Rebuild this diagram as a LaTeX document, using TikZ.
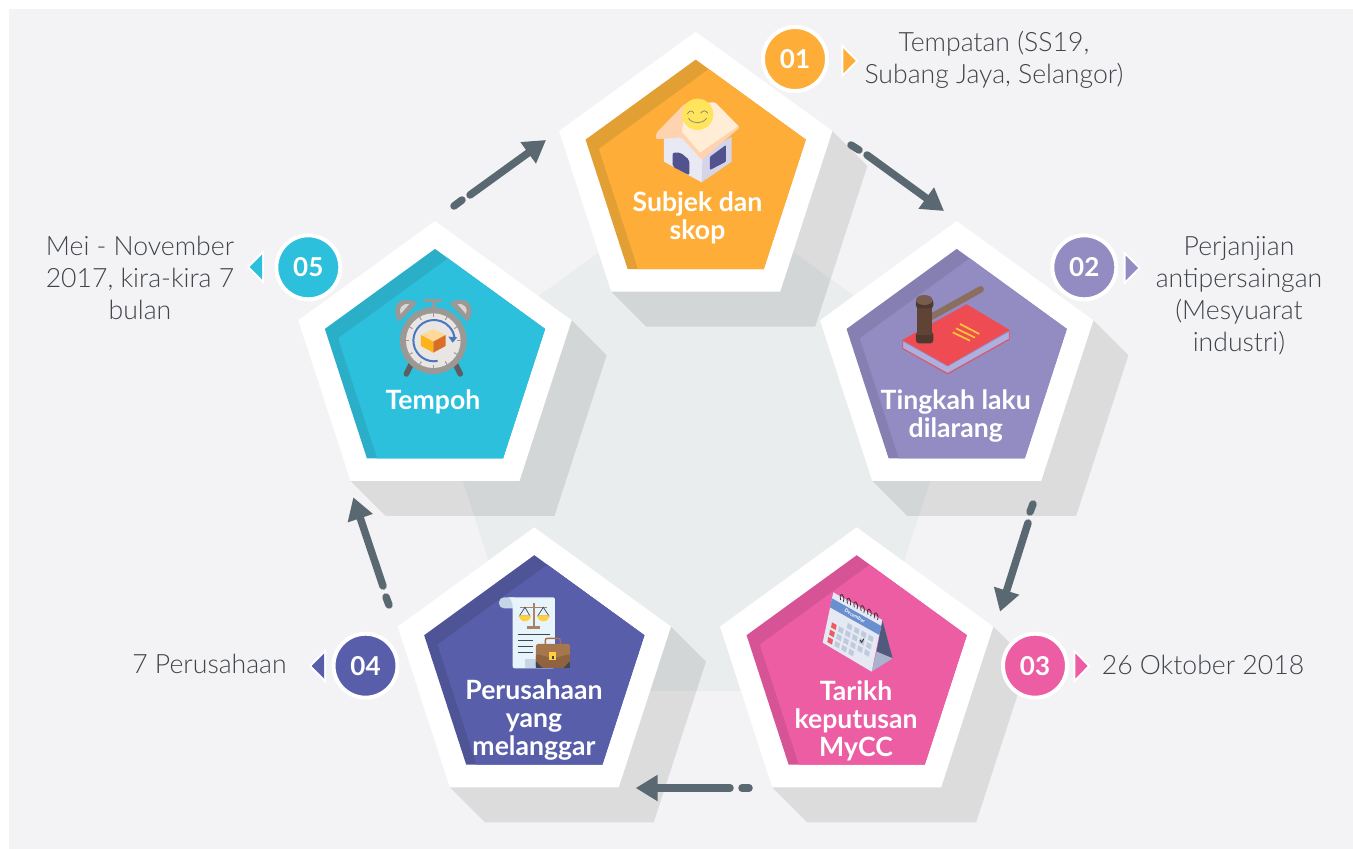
\documentclass[tikz,border=0pt]{standalone}
\usepackage{fontspec}
\setmainfont{Lato}
\newfontfamily\thinfont{Lato Light}
\usetikzlibrary{arrows.meta,calc}
\definecolor{pagegrey}{HTML}{F3F3F5}
\definecolor{bigpent}{HTML}{EAEDEE}
\definecolor{slate}{HTML}{5A6872}
\definecolor{sidetext}{HTML}{404448}
\definecolor{colA}{HTML}{FDAD38}
\definecolor{darkA}{HTML}{E29F34}
\definecolor{colB}{HTML}{938CC3}
\definecolor{darkB}{HTML}{8680B2}
\definecolor{colC}{HTML}{EC5DA3}
\definecolor{darkC}{HTML}{D65495}
\definecolor{colD}{HTML}{585EAA}
\definecolor{darkD}{HTML}{4F5496}
\definecolor{colE}{HTML}{2CC0DC}
\definecolor{darkE}{HTML}{2BAEC8}
\newcommand{\hexcol}[1]{\definecolor{#1}{HTML}{#1}}
\hexcol{E9E9F4}\hexcol{D5D4E9}\hexcol{52528F}\hexcol{FFD2B0}\hexcol{FFEDD5}\hexcol{FFE45C}
\hexcol{8B6F5E}\hexcol{EE4B53}\hexcol{B0AEDC}\hexcol{F9C532}\hexcol{4E392E}\hexcol{5F4436}\hexcol{7A5C4E}
\hexcol{4F5B7C}\hexcol{A8B4CE}\hexcol{E4E9F3}\hexcol{6A8FCF}\hexcol{EE5A5F}\hexcol{BFCADC}
\hexcol{C5D5E6}\hexcol{E8F4FB}\hexcol{A98268}\hexcol{3F4650}\hexcol{FFCF3F}\hexcol{A46F4B}\hexcol{A6774F}\hexcol{8F6340}
\hexcol{5E5E5E}\hexcol{9B9896}\hexcol{D9D6D4}\hexcol{E8E5E3}\hexcol{4A76C0}\hexcol{FFD89A}\hexcol{FFB31A}\hexcol{D96F26}
\newcommand{\pentpath}[1]{(-90:#1) -- (-18:#1) -- (54:#1) -- (126:#1) -- (198:#1) -- cycle}
\tikzset{
	pentlabel/.style={text=white,font=\fontsize{26.6}{28}\selectfont\bfseries,align=center,inner sep=0pt},
	sidelabel/.style={text=sidetext,font=\fontsize{26.6}{32}\selectfont\thinfont,align=center,inner sep=0pt},
	badge/.style={circle,draw=white,line width=4pt,minimum size=64pt,inner sep=0pt,outer sep=0pt,text=white,font=\fontsize{26}{28}\selectfont\bfseries},
	flow/.style={draw=slate,line width=7.5pt,line cap=round},
	zoomed/.style={x=.3333pt,y=-.3333pt},
}
\begin{document}
\begin{tikzpicture}[x=1pt,y=-1pt]
\useasboundingbox[fill=white] (0,0) rectangle (1353,849);
\fill[pagegrey] (9,9) rectangle (1353,849);
\coordinate (big) at (696.5,463);
\coordinate (P1) at (695.7,175.4);
\coordinate (P2) at (956.7,364.7);
\coordinate (P3) at (856.7,671);
\coordinate (P4) at (534.3,671);
\coordinate (P5) at (435,364.7);
\fill[bigpent,shift={(big)}] \pentpath{281.6};
\foreach \p in {P1,P2,P3,P4,P5}
	\fill[black,opacity=.095,shift={(\p)}] (-18:143.7) -- ++(35,35) -- ($(54:143.7)+(35,35)$) -- ($(126:143.7)+(35,35)$) -- (126:143.7) -- cycle;
\foreach \p/\c/\d in {P1/colA/darkA,P2/colB/darkB,P3/colC/darkC,P4/colD/darkD,P5/colE/darkE}{
	\fill[white,shift={(\p)}] \pentpath{143.7};
	\fill[\d,shift={(\p)}] \pentpath{115.8};
	\begin{scope}[shift={(\p)}]
		\clip \pentpath{115.8};
		\fill[\c,shift={(13.3,9.3)}] \pentpath{115.8};
	\end{scope}
}
\coordinate (a1) at (454,206);
\coordinate (b1) at (462,200);
\coordinate (c1) at (470,195);
\coordinate (d1) at (546,140);
\coordinate (a2) at (851,145);
\coordinate (b2) at (859,150);
\coordinate (c2) at (867,155);
\coordinate (d2) at (944,211);
\coordinate (a3) at (1033,504);
\coordinate (b3) at (1030,512);
\coordinate (c3) at (1028,523);
\coordinate (d3) at (1000,611.7);
\coordinate (a4) at (749,788);
\coordinate (b4) at (742,788);
\coordinate (c4) at (730,788);
\coordinate (d4) at (635.7,788);
\coordinate (a5) at (389,605);
\coordinate (b5) at (386,597);
\coordinate (c5) at (383,586);
\coordinate (d5) at (353.3,497.3);
\foreach \i in {1,...,5}{
	\draw[flow] (a\i) -- (b\i);
	\draw[flow,-{Triangle[length=22pt,width=25pt]}] (c\i) -- (d\i);
}
\node[pentlabel] (l1) at (697.5,218) {Subjek dan\\skop};
\node[pentlabel] (l2) at (955.8,416) {Tingkah laku\\dilarang};
\node[pentlabel] (l3) at (856,721) {Tarikh\\keputusan\\MyCC};
\node[pentlabel] (l4) at (534,720.5) {Perusahaan\\yang\\melanggar};
\node[pentlabel] (l5) at (433,402) {Tempoh};
\foreach \n/\x/\y/\c/\t in {n1/795/59/colA/01,n2/1084.3/267.3/colB/02,n3/1035/665.7/colC/03,n4/365.5/665.7/colD/04,n5/308.3/267.3/colE/05}
	\node[badge,fill=\c] (\n) at (\x,\y) {\t};
\foreach \x/\y/\s/\c in {843.3/60.8/1/colA,1125.7/268/1/colB,1075.3/666/1/colC,324/666/-1/colD,262/267/-1/colE}
	\fill[\c,preaction={draw=white,line width=4pt}] (\x,\y-12.5) -- (\x+\s*12.4,\y) -- (\x,\y+12.5) -- cycle;
\node[sidelabel] (s1) at (994,59.5) {Tempatan (SS19,\\Subang Jaya, Selangor)};
\node[sidelabel] (s2) at (1239,295.5) {Perjanjian\\antipersaingan\\(Mesyuarat\\industri)};
\node[sidelabel] (s3) at (1203,665) {26 Oktober 2018};
\node[sidelabel] (s4) at (209.5,664) {7 Perusahaan};
\node[sidelabel] (s5) at (140,278) {Mei - November\\2017, kira-kira 7\\bulan};
% house
\begin{scope}[shift={(550,20)},zoomed]
	\fill[E9E9F4] (342,350) -- (342,425) -- (455,487) -- (470,400) -- (395,340) -- cycle;
	\fill[D5D4E9] (545,350) -- (545,425) -- (455,487) -- (458,400) -- cycle;
	\fill[52528F,rounded corners=2pt] (368,398) -- (392,398) -- (418,420) -- (418,466) -- (368,440) -- cycle;
	\fill[52528F,rounded corners=1pt] (480,410) -- (528,375) -- (528,425) -- (480,450) -- cycle;
	\fill[FFD2B0,rounded corners=2pt] (318,340) -- (405,250) -- (495,247) -- (570,322) -- (455,420) -- (395,352) -- (318,358) -- cycle;
	\fill[FFEDD5,rounded corners=1pt] (495,247) -- (565,318) -- (450,398) -- (395,335) -- (410,255) -- cycle;
	\fill[FFE45C] (443,283) circle (47);
	\draw[gray,line width=.7pt] (412,282) .. controls (420,270) and (425,270) .. (432,280);
	\draw[gray,line width=.7pt] (452,280) .. controls (460,270) and (465,270) .. (474,280);
	\draw[gray,line width=.7pt] (415,295) .. controls (430,313) and (455,313) .. (470,295);
\end{scope}
% gavel and book
\begin{scope}[shift={(820,220)},zoomed]
	\fill[EE4B53] (247,360) -- (440,253) -- (569,330) -- (383,437) -- cycle;
	\fill[B0AEDC] (249,365) -- (383,440) -- (568,335) -- (568,355) -- (383,458) -- (249,385) -- cycle;
	\draw[EE4B53,line width=.8pt] (248,362) -- (248,385) -- (383,462) -- (568,358) -- (568,332);
	\draw[8B6F5E,line width=6.5pt,line cap=round] (335,290) -- (482,208);
	\draw[F9C532,line width=1.8pt] (420,312) -- (478,342);
	\draw[F9C532,line width=1.8pt] (408,325) -- (465,353);
	\draw[F9C532,line width=1.8pt] (398,337) -- (450,362);
	\fill[4E392E,rounded corners=3pt] (288,335) rectangle (340,370);
	\fill[5F4436] (292,250) rectangle (336,345);
	\fill[4E392E,rounded corners=3pt] (288,238) rectangle (340,265);
	\fill[7A5C4E] (313,240) ellipse (25 and 15);
\end{scope}
% calendar
\begin{scope}[shift={(720,520)},zoomed]
	\fill[4F5B7C] (487,300) -- (518,415) -- (470,395) -- cycle;
	\fill[A8B4CE] (470,395) -- (518,415) -- (455,455) -- cycle;
	\fill[E4E9F3] (340,217) -- (487,300) -- (455,455) -- (308,368) -- cycle;
	\fill[6A8FCF] (336,235) -- (484,318) -- (478,345) -- (330,262) -- cycle;
	\node[rotate=-30,text=white,font=\fontsize{5}{5}\selectfont\bfseries,inner sep=0pt] (month) at (405,288) {December};
	\foreach \i in {0,...,5}
		\draw[black!80,line width=.8pt] (362+\i*20.5,240+\i*11) .. controls (355+\i*20.5,210+\i*11) and (378+\i*20.5,225+\i*11) .. (370+\i*20.5,245+\i*11);
	\foreach \r in {0,1,2}
		\fill[EE5A5F] (336-\r*5.5,307+\r*22) -- ++(14,8) -- ++(-3,15) -- ++(-14,-8) -- cycle;
	\foreach \r/\c in {-1/2,-1/3,-1/4,-1/5,0/1,0/2,0/3,0/4,0/5,1/1,1/2,1/3,1/4,1/5,2/1,2/2,2/3}
		\fill[BFCADC] (336-\r*5.5+\c*21,307+\r*22+\c*11.7) -- ++(14,8) -- ++(-3,15) -- ++(-14,-8) -- cycle;
	\draw[black!80,line width=.9pt] (420,360) -- (425,367) -- (432,356);
\end{scope}
% scroll and briefcase
\begin{scope}[shift={(390,520)},zoomed]
	\fill[C5D5E6,rounded corners=5pt] (327,265) -- (327,232) -- (385,232) -- (385,265) -- cycle;
	\fill[E8F4FB,rounded corners=2pt] (368,445) -- (368,265) .. controls (368,250) and (362,235) .. (352,232) -- (495,232) -- (495,445) -- cycle;
	\fill[C5D5E6] (405,418) rectangle (480,443);
	\draw[A98268,line width=1.6pt] (432,248) -- (432,320);
	\draw[A98268,line width=1.6pt] (390,262) -- (472,262);
	\fill[A98268] (412,318) rectangle (450,326);
	\draw[3F4650,line width=.7pt] (405,262) -- (388,288) -- (420,288) -- cycle;
	\draw[3F4650,line width=.7pt] (460,262) -- (443,288) -- (477,288) -- cycle;
	\fill[FFCF3F] (387,286) arc (180:0:18) -- cycle;
	\fill[FFCF3F] (442,286) arc (180:0:18) -- cycle;
	\draw[3F4650,line width=1.5pt] (384,343) -- (481,343);
	\draw[3F4650,line width=1.5pt] (384,362) -- (428,362);
	\draw[3F4650,line width=1.5pt] (384,380) -- (428,380);
	\draw[3F4650,line width=1.5pt] (384,398) -- (428,398);
	\draw[A46F4B,line width=1.4pt,rounded corners=2pt] (466,375) -- (466,355) -- (511,355) -- (511,375);
	\fill[A6774F,rounded corners=2pt] (438,372) rectangle (540,444);
	\fill[8F6340,rounded corners=2pt] (438,402) -- (438,444) -- (540,444) -- (540,402) -- (490,415) -- cycle;
	\fill[3F4650] (438,424) -- (458,444) -- (438,444) -- cycle;
	\fill[3F4650] (540,424) -- (520,444) -- (540,444) -- cycle;
	\fill[FFCF3F] (478,396) rectangle (498,420);
	\fill[3F4650] (485,408) rectangle (491,418);
\end{scope}
% clock
\begin{scope}[shift={(270,220)},zoomed]
	\draw[5E5E5E,line width=5.5pt,line cap=round] (425,430) -- (409,462);
	\draw[5E5E5E,line width=5.5pt,line cap=round] (555,430) -- (571,462);
	\fill[9B9896] (388,305) .. controls (365,280) and (375,235) .. (410,240) .. controls (425,240) and (437,245) .. (441,250) -- cycle;
	\fill[9B9896] (592,305) .. controls (615,280) and (605,235) .. (570,240) .. controls (555,240) and (543,245) .. (539,250) -- cycle;
	\fill[D9D6D4] (392,282) .. controls (385,265) and (395,250) .. (418,252) -- cycle;
	\fill[D9D6D4] (588,282) .. controls (595,265) and (585,250) .. (562,252) -- cycle;
	\draw[9B9896,line width=2.4pt] (490,245) -- (490,270);
	\draw[9B9896,line width=2.4pt] (463,242) -- (517,242);
	\fill[9B9896] (490,362) circle (100);
	\fill[E8E5E3] (490,362) circle (82);
	\foreach \a in {0,30,...,330}
		\draw[9B9896,line width=1pt] (490,362) ++(\a:82) -- ++(\a+180:10);
	\draw[4A76C0,line width=2pt] (503,423) arc (80:355:62);
	\fill[4A76C0] (535,350) -- (562,352) -- (548,368) -- cycle;
	\fill[FFD89A] (490,327) -- (527,345) -- (490,365) -- (453,345) -- cycle;
	\fill[FFB31A] (453,345) -- (490,365) -- (490,398) -- (453,378) -- cycle;
	\fill[D96F26] (527,345) -- (490,365) -- (490,398) -- (527,378) -- cycle;
\end{scope}
\end{tikzpicture}
\end{document}
